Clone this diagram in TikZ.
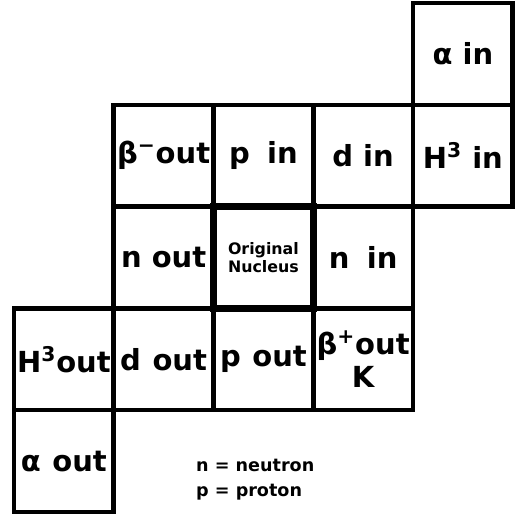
\documentclass[tikz,border=0pt]{standalone}
\usepackage{fontspec}
\setmainfont{DejaVu Sans}

\begin{document}
\begin{tikzpicture}[
    cell/.style={draw, line width=2.6pt, minimum width=1.995cm,
                 minimum height=2.036cm, inner sep=0pt, align=center,
                 font=\fontsize{16.5}{19}\selectfont\bfseries},
    origin/.style={cell, line width=4.2pt, font=\fontsize{9}{10.5}\selectfont\bfseries},
    legend/.style={anchor=west, font=\fontsize{10}{11}\selectfont\bfseries},
]
    \useasboundingbox (0, 0) rectangle (10.48, 10.3);

    \node[cell] (alphain) at (9.258, 9.222) {α in};

    \node[cell] (betaminusout) at (3.272, 7.186) {β\textsuperscript{−}out};
    \node[cell] (pin) at (5.268, 7.186) {p\hspace{0.6em}in};
    \node[cell] (din) at (7.262, 7.186) {d in};
    \node[cell] (tritonin) at (9.258, 7.186) {H\textsuperscript{3} in};

    \node[cell] (nout) at (3.272, 5.15) {n out};
    \node[cell] (nin) at (7.262, 5.15) {n\hspace{0.6em}in};

    \node[cell] (tritonout) at (1.278, 3.114) {H\textsuperscript{3}out};
    \node[cell] (dout) at (3.272, 3.114) {d\hspace{0.4em}out};
    \node[cell] (pout) at (5.268, 3.114) {p\hspace{0.4em}out};
    \node[cell] (betaplusout) at (7.262, 3.114)
        {β\textsuperscript{+}out\\K};

    \node[cell] (alphaout) at (1.278, 1.078) {α\hspace{0.4em}out};

    \node[origin] (nucleus) at (5.268, 5.15) {Original\\Nucleus};

    \node[legend] (neutron) at (3.8, 1.0) {n = neutron};
    \node[legend] (proton) at (3.8, 0.46) {p = proton};
\end{tikzpicture}
\end{document}
